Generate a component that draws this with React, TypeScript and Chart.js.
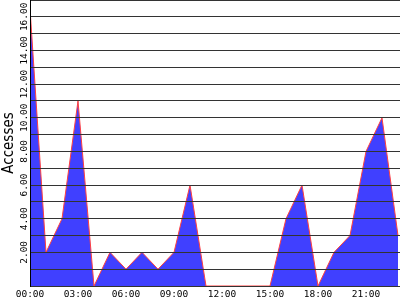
import { useEffect, useRef } from 'react';
import { Chart, registerables } from 'chart.js';

Chart.register(...registerables);

const hours = [0, 1, 2, 3, 4, 5, 6, 7, 8, 9, 10, 11, 12, 13, 14, 15, 16, 17, 18, 19, 20, 21, 22, 23];
const accesses = [16.5, 2, 4, 11, 0, 2, 1, 2, 1, 2, 6, 0, 0, 0, 0, 0, 4, 6, 0, 2, 3, 8, 10, 3];
const xTickHours = [0, 3, 6, 9, 12, 15, 18, 21];
const yTickLabels = [2, 4, 6, 8, 10, 12, 14, 16];
const yAxisTitle = 'Accesses';

export default function App() {
  const ref = useRef<HTMLCanvasElement>(null);

  useEffect(() => {
    document.body.style.margin = '0';
    const canvas = ref.current;
    if (!canvas) return;
    const chart = new Chart(canvas, {
      type: 'line',
      data: {
        datasets: [
          {
            data: hours.map((h, i) => ({ x: h, y: accesses[i] })),
            borderColor: '#ff4040',
            backgroundColor: '#4040ff',
            borderWidth: 1,
            fill: 'origin',
            pointRadius: 0,
            tension: 0,
          },
        ],
      },
      options: {
        animation: false,
        responsive: false,
        devicePixelRatio: 1,
        layout: { padding: 0 },
        plugins: {
          legend: { display: false },
          tooltip: { enabled: false },
          title: { display: false },
        },
        scales: {
          x: {
            type: 'linear',
            min: 0,
            max: 23.125,
            afterBuildTicks: (s: any) => {
              s.ticks = xTickHours.map((v) => ({ value: v }));
            },
            afterFit: (s: any) => {
              s.height = 14;
              s.paddingLeft = 0;
              s.paddingRight = 0;
            },
            grid: { display: false, drawTicks: false },
            border: { display: true, color: '#000', width: 1, z: 1 },
            ticks: {
              autoSkip: false,
              minRotation: 0,
              maxRotation: 0,
              padding: 3,
              color: '#000',
              font: { family: "'DejaVu Sans Mono', monospace", size: 9.5 },
              callback: (v: any) => String(v).padStart(2, '0') + ':00',
            },
          },
          y: {
            type: 'linear',
            min: 0,
            max: 17,
            afterFit: (s: any) => {
              s.width = 30;
              s.paddingTop = 0;
              s.paddingBottom = 0;
            },
            grid: { color: '#333333', lineWidth: 1, drawTicks: false, z: 1 },
            border: { display: true, color: '#000', width: 1, z: 1 },
            title: {
              display: true,
              text: yAxisTitle,
              color: '#000',
              padding: 0,
              font: { family: "'Liberation Sans Narrow', 'DejaVu Sans Condensed', sans-serif", size: 15 },
            },
            ticks: {
              stepSize: 1,
              autoSkip: false,
              minRotation: 90,
              maxRotation: 90,
              crossAlign: 'center',
              padding: -9,
              color: '#000',
              font: { family: "'DejaVu Sans Mono', monospace", size: 9.5 },
              callback: (v: any) => (yTickLabels.includes(Number(v)) ? Number(v).toFixed(2) : ''),
            },
          },
        },
      },
    } as any);
    return () => chart.destroy();
  }, []);

  return <canvas ref={ref} width={400} height={300} style={{ display: 'block', width: 400, height: 300 }} />;
}
